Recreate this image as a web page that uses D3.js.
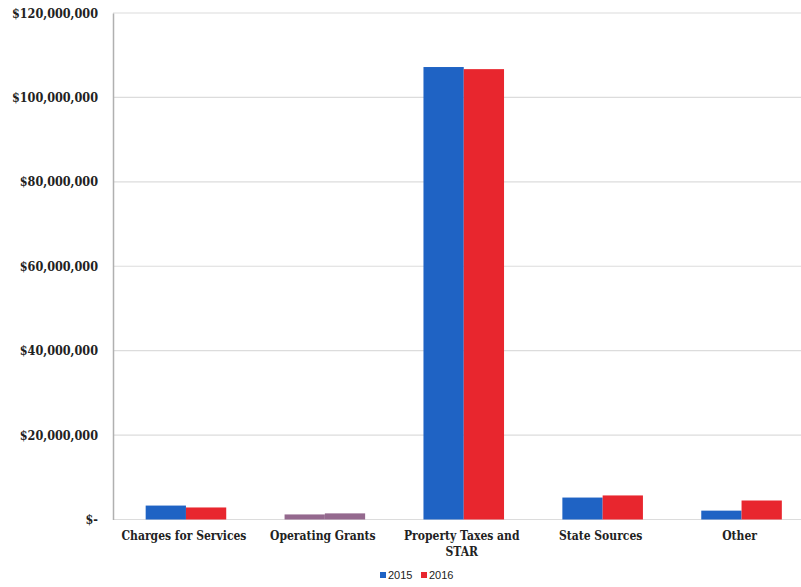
<!DOCTYPE html>
<html><head><meta charset="utf-8">
<script src="https://cdn.jsdelivr.net/npm/d3@7"></script>
<style>body{margin:0;background:#fff}svg{display:block}</style>
</head><body>
<svg id="c" width="801" height="587"></svg>
<script>
const categories = [["Charges for Services"], ["Operating Grants"], ["Property Taxes and", "STAR"], ["State Sources"], ["Other"]];
const seriesNames = ["2015", "2016"];
const values2015 = [3300000, 1200000, 107200000, 5200000, 2100000];
const values2016 = [2850000, 1450000, 106700000, 5700000, 4500000];
const yTicks = [0, 20000000, 40000000, 60000000, 80000000, 100000000, 120000000];
const colors = {"2015": "#1f63c4", "2016": "#e8262e"};
const opGrantColor = "#94698e";

const svg = d3.select("#c");
const m = {left: 116.5, right: -10, top: 13, bottom: 68};
const W = 801, H = 587;
const x = d3.scaleBand().domain(d3.range(categories.length)).range([m.left, W - m.right]).paddingInner(0.42).paddingOuter(0.21);
const xs = d3.scaleBand().domain(seriesNames).range([0, x.bandwidth()]);
const y = d3.scaleLinear().domain([0, 120000000]).range([519.5, m.top]);

const fmt = v => v === 0 ? "$-" : "$" + d3.format(",")(v);
const serif = "'DejaVu Serif Condensed', 'DejaVu Serif', serif";

// gridlines
svg.append("g").selectAll("line").data(yTicks).join("line")
  .attr("x1", 113).attr("x2", W).attr("y1", d => y(d)).attr("y2", d => y(d))
  .attr("stroke", "#dcdcdc").attr("stroke-width", 1.2);

// y axis
const yAxis = d3.axisLeft(y).tickValues(yTicks).tickFormat(fmt).tickSize(0).tickPadding(15);
const gy = svg.append("g").attr("transform", "translate(113,0)").call(yAxis);
gy.select(".domain").attr("stroke", "#b0b0b0").attr("stroke-width", 1.5);
gy.selectAll("text").attr("font-family", serif).attr("font-stretch", "condensed").attr("font-weight", "bold")
  .attr("font-size", "12.5px").attr("fill", "#222");

// bars
const data = [];
categories.forEach((c, i) => {
  data.push({i, s: "2015", v: values2015[i]});
  data.push({i, s: "2016", v: values2016[i]});
});
svg.append("g").selectAll("rect").data(data).join("rect")
  .attr("x", d => x(d.i) + xs(d.s))
  .attr("width", xs.bandwidth())
  .attr("y", d => y(d.v))
  .attr("height", d => y(0) - y(d.v))
  .attr("fill", d => d.i === 1 ? opGrantColor : colors[d.s]);

// x labels
const gx = svg.append("g");
categories.forEach((lines, i) => {
  const cx = x(i) + x.bandwidth() / 2 - 2;
  const t = gx.append("text").attr("x", cx).attr("y", 540)
    .attr("text-anchor", "middle").attr("font-family", serif).attr("font-stretch", "condensed")
    .attr("font-weight", "bold").attr("font-size", "12px").attr("fill", "#222");
  lines.forEach((l, k) => t.append("tspan").attr("x", cx).attr("dy", k ? 16 : 0).text(l));
});

// legend
const lg = svg.append("g").attr("transform", "translate(380,576)");
seriesNames.forEach((s, k) => {
  const g = lg.append("g").attr("transform", `translate(${k * 41},0)`);
  g.append("rect").attr("x", 0).attr("y", -4).attr("width", 6).attr("height", 6).attr("fill", colors[s]);
  g.append("text").attr("x", 8).attr("y", 3).attr("font-family", "'Liberation Sans', Arial, sans-serif")
    .attr("font-size", "11px").attr("fill", "#222").text(s);
});
</script>
</body></html>
